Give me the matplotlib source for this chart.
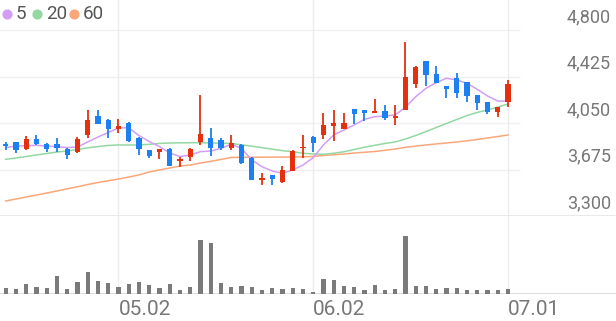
import matplotlib
matplotlib.use("Agg")
import matplotlib.pyplot as plt
from matplotlib.lines import Line2D
import numpy as np

plt.rcParams['font.family'] = ['Roboto', 'DejaVu Sans']

# daily candles (open, high, low, close)
opens = [3877, 3897, 3837, 3919, 3881, 3881, 3843, 3814, 3953, 4104,
         4072, 3999, 4052, 3929, 3832, 3819, 3840, 3743, 3774, 3894,
         3927, 3913, 3851, 3873, 3770, 3590, 3629, 3572, 3666, 3846,
         3940, 3953, 4026, 4002, 4163, 4155, 4131, 4150, 4090, 4155,
         4362, 4550, 4443, 4348, 4411, 4378, 4276, 4217, 4141, 4218]
highs = [3899, 3900, 3948, 3953, 3885, 3931, 3846, 3939, 4155, 4155,
         4080, 4082, 4055, 3937, 3835, 3840, 3845, 3778, 3845, 4276,
         4012, 3931, 3953, 3878, 3772, 3644, 3631, 3700, 3830, 3953,
         3942, 4133, 4155, 4133, 4165, 4157, 4241, 4195, 4195, 4705,
         4510, 4552, 4513, 4350, 4451, 4380, 4278, 4219, 4179, 4397]
lows = [3832, 3806, 3835, 3876, 3819, 3819, 3758, 3812, 3927, 4040,
        3927, 3972, 3900, 3792, 3765, 3760, 3700, 3693, 3743, 3872,
        3786, 3832, 3832, 3718, 3588, 3550, 3550, 3570, 3660, 3770,
        3819, 3919, 3905, 4000, 4040, 4066, 4129, 4074, 4034, 4153,
        4330, 4350, 4374, 4254, 4254, 4222, 4155, 4120, 4101, 4181]
closes = [3861, 3832, 3923, 3878, 3843, 3846, 3792, 3919, 4074, 4044,
          4002, 4028, 3905, 3840, 3786, 3838, 3706, 3754, 3838, 3959,
          3846, 3846, 3886, 3726, 3590, 3598, 3597, 3671, 3828, 3859,
          3886, 4034, 4048, 4048, 4120, 4133, 4147, 4090, 4106, 4421,
          4500, 4437, 4376, 4327, 4290, 4271, 4209, 4141, 4177, 4364]

# moving averages
ma5 = [3852, 3864, 3867, 3870, 3864, 3859, 3852, 3856, 3897, 3937,
       3973, 4010, 4012, 3949, 3901, 3860, 3808, 3780, 3792, 3819,
       3824, 3846, 3878, 3846, 3752, 3698, 3663, 3644, 3671, 3711,
       3770, 3873, 3953, 3994, 4034, 4080, 4101, 4106, 4115, 4177,
       4262, 4330, 4375, 4411, 4397, 4370, 4322, 4268, 4227, 4227]
ma20 = [3757, 3768, 3780, 3792, 3804, 3816, 3824, 3836, 3850, 3860,
        3869, 3873, 3873, 3873, 3878, 3885, 3889, 3890, 3891, 3891,
        3889, 3887, 3885, 3874, 3863, 3851, 3839, 3827, 3818, 3806,
        3800, 3798, 3806, 3818, 3836, 3855, 3870, 3885, 3897, 3921,
        3949, 3981, 4014, 4046, 4078, 4110, 4135, 4155, 4179, 4203]
ma60 = [3421, 3437, 3453, 3469, 3485, 3502, 3519, 3536, 3554, 3570,
        3584, 3598, 3614, 3631, 3655, 3671, 3687, 3703, 3711, 3727,
        3741, 3756, 3772, 3773, 3774, 3774, 3775, 3775, 3776, 3777,
        3780, 3788, 3794, 3800, 3808, 3814, 3820, 3830, 3840, 3854,
        3864, 3873, 3881, 3889, 3897, 3906, 3917, 3929, 3941, 3953]

volumes = [57, 47, 100, 73, 63, 183, 50, 123, 217, 133,
           107, 73, 97, 117, 90, 63, 97, 43, 70, 537,
           510, 110, 73, 80, 73, 43, 63, 50, 63, 53,
           23, 150, 140, 77, 67, 43, 87, 37, 47, 577,
           83, 83, 53, 57, 57, 43, 43, 40, 37, 50]

price_ticks = [3300, 3675, 4050, 4425, 4800]
date_pos = [11, 30, 49]
date_labels = ['05.02', '06.02', '07.01']
ma_names = ['5', '20', '60']

RED = '#e5300f'
BLUE = '#1c7ff2'
C5, C20, C60 = '#d39ef5', '#93d8a1', '#f9a77a'
GRID = '#f0f0f0'
TXT = '#777777'

W, H = 616, 321
fig = plt.figure(figsize=(W / 100, H / 100), dpi=100)

x = np.arange(len(closes))
xlim = (-0.556, 59.54)

# price panel: figure rows 0..216 px
ax = fig.add_axes([0, (H - 216) / H, 1, 216 / H])
ax.set_xlim(*xlim)
ax.set_ylim(3300, 3300 + 216 / 186 * 1500)
ax.axis('off')

for v in price_ticks[1:]:
    ax.hlines(v, xlim[0], 50.2, color=GRID, lw=1, zorder=0)
for p in date_pos:
    ax.axvline(p, color='#ececec', lw=1, zorder=0)
ax.axhline(3300, color='#e6e6e6', lw=1.2, zorder=0)

for v in price_ticks:
    ax.annotate(f'{v:,}', xy=(1, v), xycoords=('axes fraction', 'data'),
                xytext=(-5, 13), textcoords='offset pixels',
                ha='right', va='center', fontsize=13, color=TXT)

ax.plot(x, ma60, color=C60, lw=1.1, zorder=2)
ax.plot(x, ma20, color=C20, lw=1.1, zorder=2)
ax.plot(x, ma5, color=C5, lw=1.1, zorder=2)

o = np.array(opens); c = np.array(closes)
cols = [RED if cc >= oo else BLUE for oo, cc in zip(opens, closes)]
ax.vlines(x, lows, highs, colors=cols, lw=1.3, zorder=3)
body_h = np.maximum(np.abs(c - o), 14)
ax.bar(x, body_h, bottom=np.minimum(o, c), width=0.5, color=cols, zorder=4)

# legend, laid out by hand in pixels
ly = (H - 14) / H
for name, col, cx, tx in zip(ma_names, (C5, C20, C60), (7, 37, 74), (15.5, 46, 82.5)):
    fig.add_artist(Line2D([cx / W], [ly], marker='o', ls='', color=col,
                          markersize=6.3, transform=fig.transFigure))
    fig.text(tx / W, ly, name, ha='left', va='center', fontsize=13.5, color='#555555')

# volume panel: figure rows 216..294 px
axv = fig.add_axes([0, (H - 294) / H, 1, 78 / H])
axv.set_xlim(*xlim)
axv.set_ylim(0, 780)
for sp in axv.spines.values():
    sp.set_visible(False)
axv.axhline(0, color='#dddddd', lw=1.5, zorder=1)
for p in date_pos:
    axv.axvline(p, color='#ececec', lw=1, zorder=0)
axv.bar(x, volumes, width=0.4, color='#7a7a7a', zorder=2)
axv.set_yticks([])
axv.set_xticks(date_pos)
axv.set_xticklabels(date_labels, fontsize=15, color=TXT)
for lbl in axv.get_xticklabels():
    lbl.set_ha('left')
axv.tick_params(axis='x', length=0, pad=4)

fig.savefig('out.png', dpi=100)
